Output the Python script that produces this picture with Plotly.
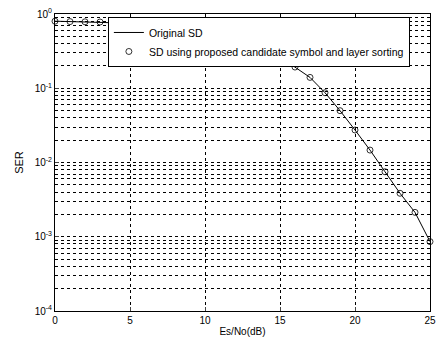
import plotly.graph_objects as go

snr_db = list(range(0, 26))
ser_original = [0.80, 0.79, 0.785, 0.78, 0.775, 0.767, 0.758, 0.741, 0.724, 0.708,
                0.676, 0.603, 0.525, 0.437, 0.347, 0.264, 0.193, 0.140, 0.087, 0.0499,
                0.0274, 0.0147, 0.0075, 0.00385, 0.00213, 0.00086]
ser_proposed = [0.80, 0.79, 0.785, 0.78, 0.775, 0.767, 0.758, 0.741, 0.724, 0.708,
                0.676, 0.603, 0.525, 0.437, 0.347, 0.264, 0.193, 0.140, 0.087, 0.0499,
                0.0274, 0.0147, 0.0075, 0.00385, 0.00213, 0.00086]
x_ticks = [0, 5, 10, 15, 20, 25]
y_ticks = [1e-4, 1e-3, 1e-2, 1e-1, 1]
y_tick_text = ["10<sup>-4</sup>", "10<sup>-3</sup>", "10<sup>-2</sup>", "10<sup>-1</sup>", "10<sup>0</sup>"]

fig = go.Figure()
fig.add_trace(go.Scatter(x=snr_db, y=ser_original, mode="lines", name="Original SD",
                         line=dict(color="black", width=1), cliponaxis=False))
fig.add_trace(go.Scatter(x=snr_db, y=ser_proposed, mode="markers",
                         name="SD using proposed candidate symbol and layer sorting",
                         cliponaxis=False,
                         marker=dict(symbol="circle-open", size=6, color="black", line=dict(width=0.8))))

fig.update_layout(
    width=439, height=345,
    margin=dict(l=55, r=9, t=14, b=34, autoexpand=False),
    paper_bgcolor="white", plot_bgcolor="white",
    font=dict(family="Liberation Sans, Arial, sans-serif", size=10, color="black"),
    showlegend=True,
    legend=dict(x=0.141, y=0.99, xanchor="left", yanchor="top",
                bgcolor="white", bordercolor="black", borderwidth=1,
                font=dict(size=10.5), itemwidth=30, tracegroupgap=0),
)
fig.update_xaxes(range=[0, 25], tickvals=x_ticks, ticks="inside", ticklen=4,
                 automargin=False,
                 showline=True, linecolor="black", linewidth=1, mirror=True,
                 showgrid=True, gridcolor="black", griddash="dot", gridwidth=0.7,
                 zeroline=False,
                 title=dict(text="Es/No(dB)", standoff=2, font=dict(size=10)))
fig.update_yaxes(type="log", range=[-4, 0], tickvals=y_ticks, ticktext=y_tick_text,
                 ticks="inside", ticklen=4, automargin=False,
                 showline=True, linecolor="black", linewidth=1, mirror=True,
                 showgrid=True, gridcolor="black", griddash="dot", gridwidth=0.7,
                 minor=dict(showgrid=True, gridcolor="black", griddash="dot", gridwidth=0.6,
                            dtick="D1", ticks=""),
                 zeroline=False,
                 title=dict(text="SER", standoff=8, font=dict(size=11)))

fig.write_html("out.html", config={"displayModeBar": False},
               post_script="document.body.style.margin='0';document.body.style.overflow='hidden';")
